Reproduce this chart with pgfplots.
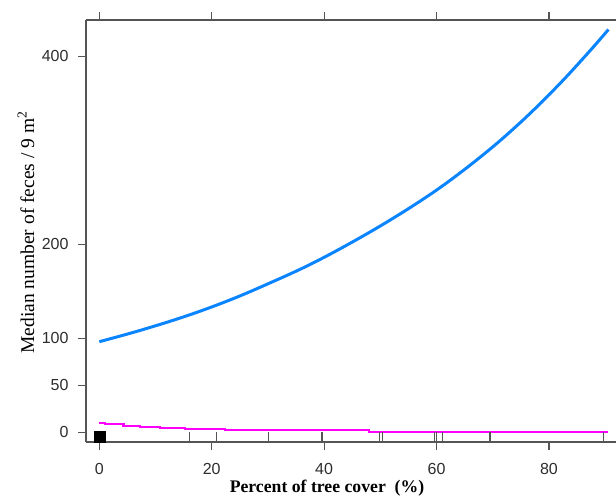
\documentclass[border=0pt]{standalone}
\usepackage{pgfplots}
\pgfplotsset{compat=1.18}
\usepackage{fontspec}
\setmainfont{Liberation Serif}
\newfontfamily\arialf{Liberation Sans}
\definecolor{curveblue}{RGB}{10,132,255}
\definecolor{curvemag}{RGB}{255,0,255}
\definecolor{axgray}{RGB}{85,85,85}
\definecolor{txtgray}{RGB}{45,45,45}
\begin{document}
\begin{tikzpicture}
\begin{axis}[
  scale only axis, width=530pt, height=422pt,
  xmin=-2.37, xmax=91.94, ymin=-10.3, ymax=438.6,
  axis x line*=box, axis y line*=left,
  axis line style={-, axgray, line width=1.3pt},
  tick align=outside, major tick length=8pt,
  tick style={axgray, line width=1.2pt},
  xtick={0,20,40,60,80}, ytick={0,50,100,200,400},
  xticklabel pos=lower, ytick pos=left,
  ticklabel style={font=\arialf\fontsize{16}{16}\selectfont, text=txtgray},
  xticklabel style={yshift=-10pt},
  yticklabel style={xshift=-6pt},
  /pgf/number format/assume math mode=true,
  xlabel={\textbf{Percent of tree cover\ \ (\%)}},
  ylabel={Median number of feces / 9 m\textsuperscript{2}},
  xlabel style={at={(axis description cs:0.4547,-0.109)}, anchor=center, font=\fontsize{17.7}{18}\selectfont},
  ylabel style={at={(axis description cs:-0.1132,0.4965)}, anchor=center, font=\fontsize{19.5}{20}\selectfont},
  clip=false,
]
\coordinate (sw) at (rel axis cs:0,0);
\coordinate (ne) at (rel axis cs:1,1);
% rug
\addplot[only marks, mark=|, mark size=5.15pt, mark options={axgray, line width=1.3pt}]
  coordinates {(16.1,-5.15) (20.9,-5.15) (30.1,-5.15) (39.6,-5.15) (49.8,-5.15) (50.4,-5.15)
               (59.6,-5.15) (60.0,-5.15) (61.1,-5.15) (69.5,-5.15) (89.7,-5.15)};
\addplot[only marks, mark=square*, mark size=5.6pt, mark options={fill=black, draw=black}]
  coordinates {(0,-4.3)};
% magenta
\addplot[curvemag, line width=2.2pt, const plot]
  coordinates {(0,10.2) (1,8.8) (4.3,7.1) (7.2,6.0) (10.8,4.2) (15.2,3.2) (22.4,2.1) (48,0.5) (90.5,0.5)};
% blue
\addplot[curveblue, line width=3pt, smooth, tension=0.6]
  coordinates {(0,96.4) (7.2,108.3) (15.5,123.8) (23.3,140.9) (30.4,159) (37.5,178.5) (44.6,201)
               (51.7,225.6) (58.8,252.7) (64.2,276) (69.5,301.1) (73.7,322.9) (77.8,345.9)
               (82.6,375) (87.3,405.8) (90.6,428.5)};
\end{axis}
\pgfresetboundingbox
\path[use as bounding box] ([xshift=-86pt,yshift=-56pt]sw) rectangle ([yshift=20pt]ne);
\end{tikzpicture}
\end{document}
